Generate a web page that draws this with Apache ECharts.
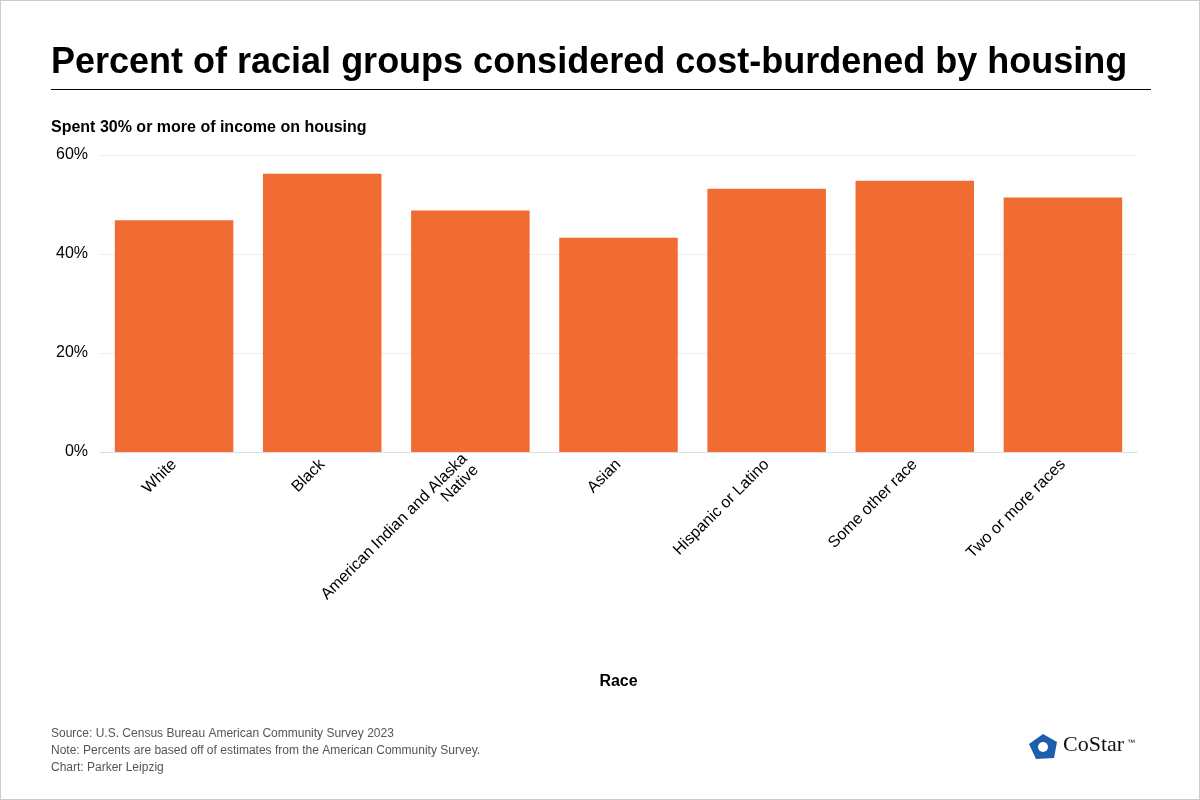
<!DOCTYPE html>
<html><head><meta charset="utf-8">
<script src="https://cdn.jsdelivr.net/npm/echarts@6/dist/echarts.min.js"></script>
<style>html,body{margin:0;padding:0;background:#fff}#c{width:1200px;height:800px;box-sizing:border-box;border:1px solid #ccc}</style>
</head><body><div id="c"></div>
<script>
const categories = ["White","Black","American Indian and Alaska\nNative","Asian","Hispanic or Latino","Some other race","Two or more races"];
const values = [46.8,56.2,48.8,43.3,53.2,54.8,51.4];
const yTicks = [0,20,40,60];
const chart = echarts.init(document.getElementById('c'));
chart.setOption({
  animation:false,
  graphic:[
    {type:'text',left:50,top:44,style:{text:'Percent of racial groups considered cost-burdened by housing',font:'bold 36px Arial, "Liberation Sans"',fill:'#000'}},
    {type:'rect',shape:{x:50,y:88,width:1100,height:1},style:{fill:'#000'}},
    {type:'text',left:50,top:119,style:{text:'Spent 30% or more of income on housing',font:'bold 16px Arial, "Liberation Sans"',fill:'#000'}},
    {type:'text',left:50,top:724,style:{text:'Source: U.S. Census Bureau American Community Survey 2023\nNote: Percents are based off of estimates from the American Community Survey.\nChart: Parker Leipzig',font:'12px Arial, "Liberation Sans"',fill:'#555',lineHeight:17}},
    {type:'text',left:1062,top:733,style:{text:'CoStar',font:'22px "Liberation Serif", serif',fill:'#111'}},
    {type:'text',left:1126,top:738,style:{text:'™',font:'8px Arial',fill:'#111'}},
    {type:'polygon',shape:{points:[[1042,733],[1056,741],[1053,757],[1035,758],[1028,743]]},style:{fill:'#1d5fad'}},
    {type:'circle',shape:{cx:1042,cy:746,r:5},style:{fill:'#fff'}}
  ],
  grid:{left:99,right:62,top:154,bottom:347},
  xAxis:{type:'category',data:categories,name:'Race',nameLocation:'middle',nameGap:222,
    nameTextStyle:{fontWeight:'bold',fontSize:16,color:'#000',fontFamily:'Arial'},
    axisLine:{lineStyle:{color:'#ddd'}},axisTick:{show:false},
    axisLabel:{rotate:45,fontSize:16,color:'#000',fontFamily:'Arial',interval:0,margin:10}},
  yAxis:{type:'value',min:0,max:60,interval:20,
    axisLabel:{formatter:'{value}%',fontSize:16,color:'#000',fontFamily:'Arial',margin:12},
    splitLine:{lineStyle:{color:'#eee'}}},
  series:[{type:'bar',data:values,barCategoryGap:'20%',itemStyle:{color:'#f06c33'}}]
});
</script></body></html>
